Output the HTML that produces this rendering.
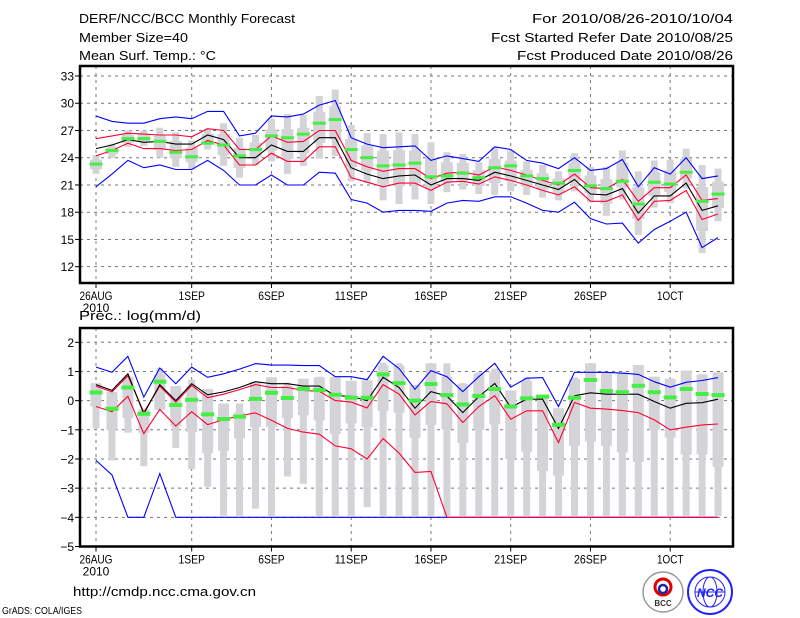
<!DOCTYPE html>
<html><head><meta charset="utf-8"><style>
html,body{margin:0;padding:0;background:#fff;}
svg{display:block;font-family:"Liberation Sans",sans-serif;}
</style></head><body>
<svg id="chart" width="800" height="618" viewBox="0 0 800 618" xmlns="http://www.w3.org/2000/svg">
<rect width="800" height="618" fill="#fff"/>
<g font-size="13" fill="#000">
<text x="79" y="23" textLength="216" lengthAdjust="spacingAndGlyphs">DERF/NCC/BCC Monthly Forecast</text>
<text x="79" y="42" textLength="109" lengthAdjust="spacingAndGlyphs">Member Size=40</text>
<text x="79" y="60" textLength="137" lengthAdjust="spacingAndGlyphs">Mean Surf. Temp.: °C</text>
<text x="733" y="23" text-anchor="end" textLength="201" lengthAdjust="spacingAndGlyphs">For 2010/08/26-2010/10/04</text>
<text x="733" y="42" text-anchor="end" textLength="242" lengthAdjust="spacingAndGlyphs">Fcst Started Refer Date 2010/08/25</text>
<text x="733" y="60" text-anchor="end" textLength="216" lengthAdjust="spacingAndGlyphs">Fcst Produced Date 2010/08/26</text>
<text x="79" y="320" textLength="122" lengthAdjust="spacingAndGlyphs">Prec.: log(mm/d)</text>
<text x="73" y="596" textLength="183" lengthAdjust="spacingAndGlyphs">http://cmdp.ncc.cma.gov.cn</text>
<text x="2" y="614" font-size="10" textLength="80" lengthAdjust="spacingAndGlyphs">GrADS: COLA/IGES</text>
</g>
<g>
<circle cx="663" cy="592" r="20" fill="#fff" stroke="#999" stroke-width="1.5"/>
<circle cx="663" cy="587" r="8" fill="none" stroke="#d00" stroke-width="3"/>
<circle cx="663" cy="589" r="4" fill="none" stroke="#22a" stroke-width="2.5"/>
<text x="663" y="606" font-size="8" font-weight="bold" text-anchor="middle" fill="#333">BCC</text>
</g>
<g>
<circle cx="710" cy="592" r="22" fill="#fff" stroke="#22f" stroke-width="2"/>
<ellipse cx="710" cy="592" rx="15" ry="15" fill="none" stroke="#22f" stroke-width="1"/>
<ellipse cx="710" cy="592" rx="7" ry="15" fill="none" stroke="#22f" stroke-width="1"/>
<line x1="695" y1="592" x2="725" y2="592" stroke="#22f"/>
<text x="710" y="597" font-size="12" font-style="italic" font-weight="bold" text-anchor="middle" fill="#22f">NCC</text>
</g>
<g id="top"></g>
<g id="bot"></g>
</svg>
<script>
// ---- Temperature panel data (40 days from 26AUG) ----
const tBlueU=[28.6,28.0,27.8,27.8,28.3,28.5,28.3,29.1,29.1,26.4,26.7,28.6,28.5,28.8,29.8,30.3,26.2,25.5,25.1,25.2,25.3,23.7,24.2,23.9,23.6,25.2,24.9,23.7,23.4,22.8,24.0,22.6,22.8,23.8,20.8,22.9,22.2,24.0,21.7,22.0];
const tRedU=[26.1,26.4,26.7,26.6,26.5,26.5,26.3,27.2,27.0,24.9,24.9,26.4,25.7,25.8,27.0,27.0,23.7,23.0,22.5,22.8,22.8,21.7,22.3,22.4,22.1,23.0,22.6,22.1,21.5,21.0,22.2,20.7,20.6,21.6,19.2,20.7,20.7,22.1,19.3,19.5];
const tMean=[25.0,25.4,26.0,25.7,25.8,25.5,25.5,26.5,26.0,24.0,24.0,25.4,24.7,24.7,26.2,26.2,22.9,22.2,21.7,22.0,22.1,21.0,21.7,21.7,21.5,22.4,22.0,21.5,21.0,20.5,21.6,20.0,19.9,20.6,17.9,19.8,19.8,21.2,18.2,18.7];
const tRedL=[24.2,24.8,25.6,25.0,25.0,24.8,24.9,25.9,25.4,23.2,23.2,24.5,23.6,23.6,25.2,25.2,21.8,21.3,20.8,21.2,21.2,20.4,21.3,21.4,21.1,21.9,21.5,21.0,20.4,19.9,20.8,19.2,19.2,19.9,17.1,19.2,19.3,20.4,17.2,17.8];
const tBlueL=[20.8,22.2,23.7,22.9,23.2,22.7,22.7,23.7,22.6,21.0,21.0,22.1,21.0,21.0,22.4,22.3,19.4,19.0,18.0,18.2,18.2,18.1,19.0,19.3,19.2,19.7,19.7,19.0,18.2,18.0,19.1,17.3,16.7,16.8,14.6,16.1,17.0,18.0,14.1,15.2];
const tGreen=[23.3,24.8,26.1,26.1,25.8,24.6,24.1,25.6,25.4,24.2,24.9,26.4,26.2,26.6,27.8,28.2,24.9,24.0,23.1,23.2,23.4,21.9,22.0,22.3,21.8,22.9,23.1,22.0,21.7,21.2,22.6,20.9,20.6,21.4,18.9,21.3,21.1,22.4,19.2,20.0];
const tLo=[22.2,24.0,25.2,25.3,24.0,23.0,22.7,24.9,23.1,21.8,23.2,23.6,22.2,23.1,23.9,24.2,21.4,21.2,19.3,18.9,19.4,18.9,20.2,20.5,20.0,19.9,20.3,19.9,19.6,19.3,20.3,19.1,17.6,19.4,15.5,18.5,19.0,20.6,13.5,17.0];
const tHi=[24.3,25.5,27.0,27.0,27.3,26.8,25.9,27.2,27.8,26.2,26.5,28.3,28.8,28.7,30.8,31.5,27.6,26.7,26.6,26.8,26.6,25.7,24.6,24.4,23.5,25.2,24.8,23.6,23.2,22.5,24.5,23.0,23.0,24.8,22.5,23.7,23.8,25.0,23.2,22.8];
const tTicks=[33,30,27,24,21,18,15,12];
// ---- Precipitation panel data ----
const bBlueU=[1.15,0.97,1.52,0.12,1.12,0.58,1.15,0.8,0.92,1.08,1.27,1.22,1.22,1.2,1.2,0.82,0.82,0.72,1.52,1.1,0.39,1.03,0.82,0.31,0.82,1.28,0.46,0.77,0.79,-0.2,0.97,0.97,0.97,0.94,0.9,0.65,0.46,0.63,0.69,0.79];
const bMean=[0.55,0.35,0.92,-0.45,0.55,0.0,0.58,0.2,0.3,0.45,0.65,0.58,0.58,0.5,0.5,0.17,0.15,0.0,0.8,0.45,-0.26,0.31,0.16,-0.41,0.14,0.59,-0.23,0.05,0.05,-0.95,0.17,0.27,0.22,0.22,0.22,-0.03,-0.26,-0.09,-0.07,0.05];
const bRedU=[0.5,0.3,0.85,-0.4,0.5,-0.05,0.52,0.1,0.22,0.38,0.55,0.45,0.45,0.35,0.32,0.0,-0.05,-0.25,0.55,0.22,-0.49,-0.03,-0.11,-0.75,-0.2,0.17,-0.64,-0.35,-0.35,-1.44,-0.06,-0.26,-0.29,-0.34,-0.41,-0.66,-1.0,-0.91,-0.83,-0.8];
const bRedL=[-0.2,-0.38,0.15,-1.13,-0.3,-0.87,-0.38,-0.82,-0.65,-0.52,-0.42,-0.67,-0.95,-1.08,-1.15,-1.55,-1.65,-2.0,-1.3,-1.8,-2.46,-2.43,-4,-4,-4,-4,-4,-4,-4,-4,-4,-4,-4,-4,-4,-4,-4,-4,-4,-4];
const bBlueL=[-2.05,-2.55,-4,-4,-2.5,-4,-4,-4,-4,-4,-4,-4,-4,-4,-4,-4,-4,-4,-4,-4,-4,-4,-4,-4,-4,-4,-4,-4,-4,-4,-4,-4,-4,-4,-4,-4,-4,-4,-4,-4];
const bGreen=[0.28,-0.28,0.45,-0.45,0.65,-0.15,0.03,-0.47,-0.63,-0.55,0.06,0.27,0.09,0.4,0.36,0.2,0.1,0.1,0.9,0.6,0.0,0.57,0.19,-0.13,0.16,0.4,-0.2,0.08,0.14,-0.83,0.1,0.71,0.33,0.29,0.51,0.29,0.11,0.4,0.23,0.19];
const bWhiskHi=[0.6,0.3,0.85,-0.3,1.12,0.5,0.72,0.4,-0.1,-0.1,0.65,0.8,0.62,0.75,0.82,0.82,0.68,0.7,1.3,1.28,0.54,1.28,1.28,0.6,0.97,1.1,0.35,0.8,0.11,-0.26,0.8,1.28,0.97,0.97,1.22,0.82,0.75,1.03,0.9,0.97];
const bWhiskLo=[-0.95,-2.05,-1.1,-2.25,-0.33,-1.62,-2.35,-2.95,-3.95,-3.95,-3.7,-3.95,-2.6,-2.85,-3.95,-3.95,-3.95,-3.65,-3.95,-3.95,-3.95,-3.95,-3.95,-3.95,-3.95,-3.95,-3.95,-3.95,-3.95,-3.95,-3.95,-3.95,-3.95,-3.95,-3.95,-3.95,-3.95,-3.95,-3.95,-3.95];
const bBoxHi=[0.6,0.3,0.8,-0.3,0.9,0.5,0.5,0.4,-0.1,-0.4,0.65,0.8,0.5,0.75,0.8,0.8,0.68,0.7,1.2,1.2,0.54,1.28,0.82,0.57,0.91,1.0,0.35,0.67,0.11,-0.26,0.74,1.28,0.97,0.97,1.22,0.82,0.75,1.03,0.9,0.97];
const bBoxLo=[-0.2,-1.0,-0.6,-1.1,-0.3,-0.88,-1.08,-1.8,-1.72,-1.3,-0.9,-0.9,-0.6,-0.5,-0.68,-1.15,-0.78,-0.9,-0.35,-0.42,-1.27,-0.83,-0.98,-1.45,-1.0,-0.82,-2.0,-1.75,-2.41,-2.57,-1.55,-1.4,-1.55,-1.78,-2.1,-1.0,-1.27,-1.85,-1.85,-2.27];
const bTicks=[2,1,0,-1,-2,-3,-4,-5];
const dateLabels=["26AUG","1SEP","6SEP","11SEP","16SEP","21SEP","26SEP","1OCT"];
const dateIdx=[0,6,11,16,21,26,31,36];

const NS="http://www.w3.org/2000/svg";
const xDay=i=>96+15.95*i;
const yT=v=>76+(33-v)*9.08;
const yB=v=>342.3+(2-v)*29.17;
function mk(parent,tag,attrs){const e=document.createElementNS(NS,tag);for(const k in attrs)e.setAttribute(k,attrs[k]);parent.appendChild(e);return e;}

function panel(g,top,bottom,ticks,ys,name){
  const L=80,R=733;
  ticks.forEach(t=>{
    const y=ys(t);
    if(y>top+2&&y<bottom-2){const gl=mk(g,'line',{x1:L,x2:R,y1:y,y2:y,stroke:'#777','stroke-width':1,'stroke-dasharray':'3,4'});
    
    }
    mk(g,'line',{x1:L-5,x2:L,y1:y,y2:y,stroke:'#000'});
    const tx=mk(g,'text',{x:L-6,y:y+4.5,'text-anchor':'end','font-size':12});
    tx.textContent=(t<0?'\u2212':'')+Math.abs(t);
    
    
  });
  dateIdx.forEach((d,k)=>{
    const x=xDay(d);
    const gl=mk(g,'line',{x1:x,x2:x,y1:top,y2:bottom,stroke:'#777','stroke-width':1,'stroke-dasharray':'3,4'});
    
    
    mk(g,'line',{x1:x,x2:x,y1:bottom,y2:bottom+5,stroke:'#000'});
    const tx=mk(g,'text',{x:x,y:bottom+17,'text-anchor':'middle','font-size':12,textLength:dateLabels[k].length*6.6,lengthAdjust:'spacingAndGlyphs'});
    tx.textContent=dateLabels[k];
    
    
  });
  const yr=mk(g,'text',{x:xDay(0),y:bottom+29,'text-anchor':'middle','font-size':12});
  yr.textContent='2010';
  
  
}
function poly(g,arr,ys,color,name){
  const p=arr.map((v,i)=>xDay(i).toFixed(1)+','+ys(v).toFixed(1)).join(' ');
  const e=mk(g,'polyline',{points:p,fill:'none',stroke:color,'stroke-width':1.1});
  
  
}
function frame(g,top,bottom){
  const f=mk(g,'rect',{x:80,y:top,width:653,height:bottom-top,fill:'none',stroke:'#000','stroke-width':2.5});
  
  
}

// Top panel
const gt=document.getElementById('top');


panel(gt,66,283,tTicks,yT,'temp');
tLo.forEach((lo,i)=>{
  const hi=tHi[i],x=xDay(i),r=hi-lo;
  const w=mk(gt,'rect',{x:x-3.5,y:yT(hi),width:7,height:yT(lo)-yT(hi),fill:'#d4d4d8'});
  
  
  const b=mk(gt,'rect',{x:x-6,y:yT(hi-0.25*r),width:12,height:yT(lo+0.25*r)-yT(hi-0.25*r),fill:'#d4d4d8'});
  
  
});
poly(gt,tBlueU,yT,'#0000ff','temp-blue-upper');
poly(gt,tBlueL,yT,'#0000ff','temp-blue-lower');
poly(gt,tRedU,yT,'#ff0033','temp-red-upper');
poly(gt,tRedL,yT,'#ff0033','temp-red-lower');
poly(gt,tMean,yT,'#000','temp-mean');
tGreen.forEach((v,i)=>{
  const e=mk(gt,'rect',{x:xDay(i)-6.5,y:yT(v)-1.5,width:13,height:3,fill:'#44ee44'});
  
  
});
frame(gt,66,283);

// Bottom panel
const gb=document.getElementById('bot');


panel(gb,328,546.5,bTicks,yB,'prec');
bWhiskLo.forEach((lo,i)=>{
  const x=xDay(i);
  const w=mk(gb,'rect',{x:x-3.5,y:yB(bWhiskHi[i]),width:7,height:yB(lo)-yB(bWhiskHi[i]),fill:'#d4d4d8'});
  
  
  const b=mk(gb,'rect',{x:x-5.5,y:yB(bBoxHi[i]),width:11,height:yB(bBoxLo[i])-yB(bBoxHi[i]),fill:'#d4d4d8'});
  
  
});
poly(gb,bBlueU,yB,'#0000ff','precip-blue-upper');
poly(gb,bBlueL,yB,'#0000ff','precip-blue-lower');
poly(gb,bRedL,yB,'#ff0033','precip-red-lower');
poly(gb,bRedU,yB,'#ff0033','precip-red-upper');
poly(gb,bMean,yB,'#000','precip-mean');
bGreen.forEach((v,i)=>{
  const e=mk(gb,'rect',{x:xDay(i)-6.5,y:yB(v)-2,width:13,height:4,fill:'#44ee44'});
  
  
});
frame(gb,328,546.5);
</script>
</body></html>
